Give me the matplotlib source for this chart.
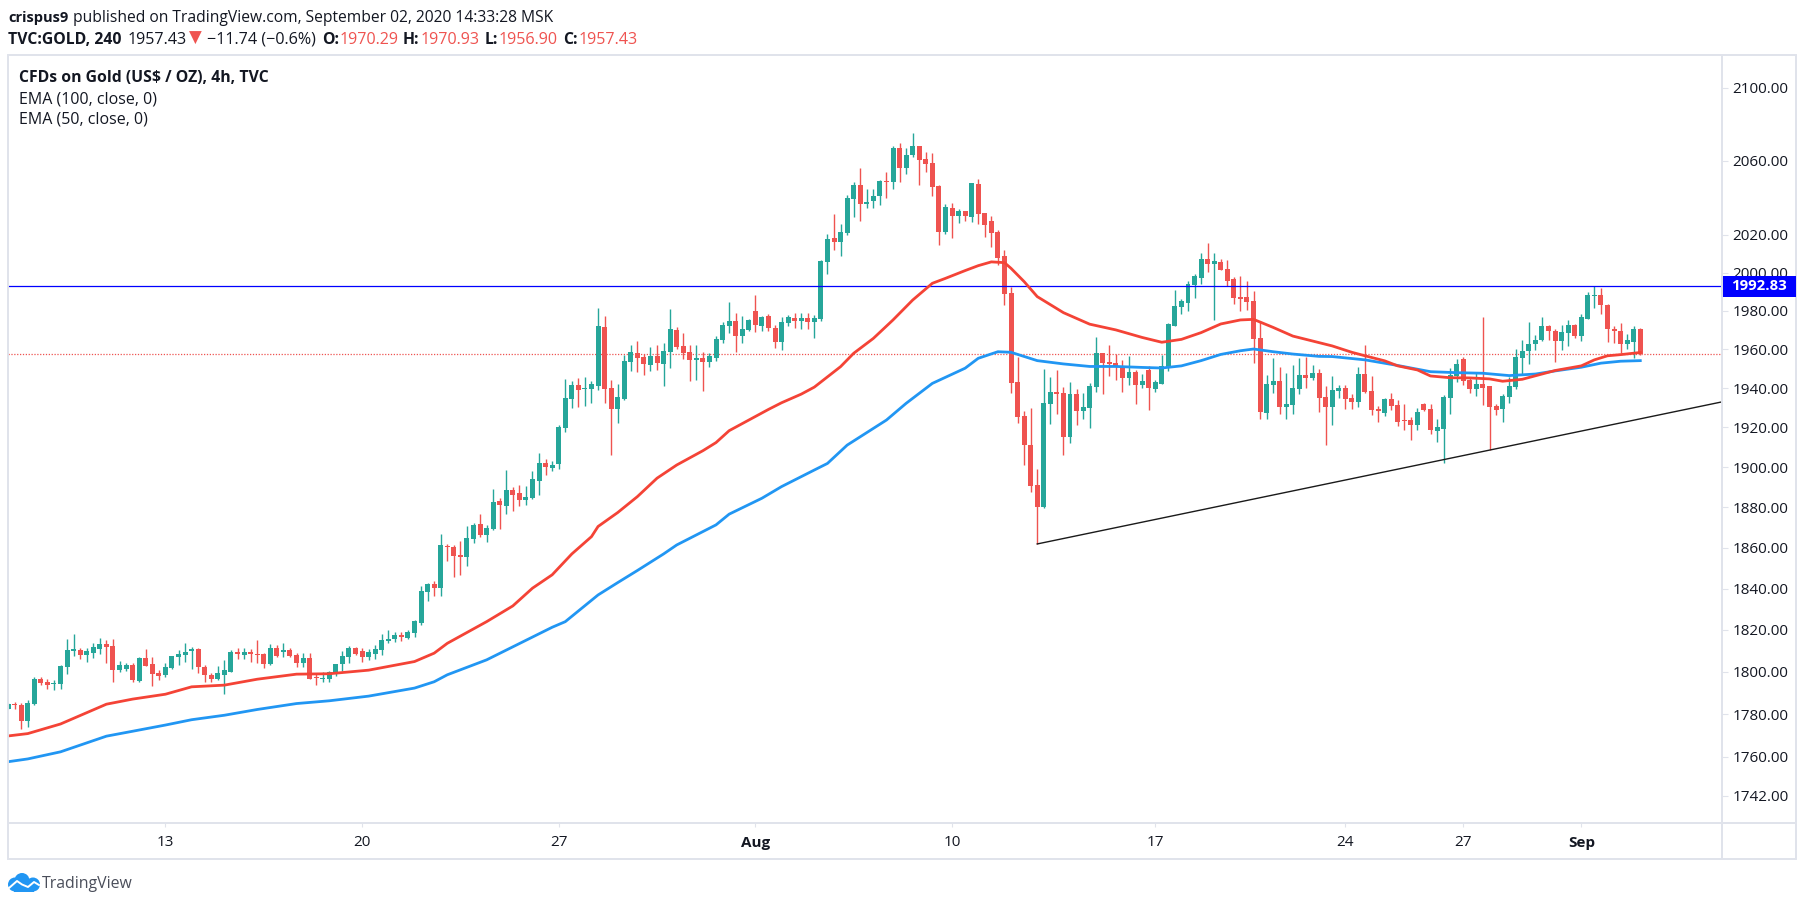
import numpy as np
import matplotlib
matplotlib.use("Agg")
import matplotlib.pyplot as plt
from matplotlib.patches import Circle, Rectangle
from matplotlib.ticker import FormatStrFormatter, NullLocator

W, H = 1805, 906

# 4h candles
opens = [
    1782.6,1785.0,1784.4,1776.8,1784.7,1796.5,1795.1,1794.0,1794.0,1802.5,
    1810.1,1810.4,1808.1,1809.0,1811.1,1813.3,1812.3,1801.0,1801.4,1803.3,
    1795.7,1806.6,1803.6,1799.4,1798.6,1801.9,1807.3,1808.1,1809.7,1810.9,
    1802.4,1798.3,1796.7,1798.6,1800.0,1809.3,1808.1,1809.3,1808.5,1808.5,
    1803.8,1811.2,1809.6,1810.3,1807.9,1804.3,1806.5,1797.6,1796.5,1796.7,
    1799.4,1803.5,1807.1,1811.4,1810.0,1807.1,1808.5,1810.6,1814.9,1815.8,
    1817.4,1816.1,1818.5,1823.2,1838.1,1842.2,1840.4,1860.9,1860.3,1856.4,
    1855.6,1864.3,1871.7,1866.3,1869.1,1883.1,1880.6,1888.5,1887.1,1883.6,
    1884.6,1893.0,1902.0,1899.5,1901.5,1919.7,1934.4,1941.5,1939.5,1939.5,
    1941.0,1971.6,1940.0,1929.3,1934.4,1953.4,1958.0,1956.0,1951.9,1956.5,
    1952.4,1958.6,1970.0,1961.7,1958.6,1954.4,1955.5,1953.4,1955.5,1964.8,
    1972.1,1974.7,1966.9,1970.0,1979.9,1972.1,1977.3,1971.0,1963.8,1973.7,
    1976.3,1974.7,1976.3,1974.2,1975.7,2005.7,2018.4,2016.3,2021.1,2039.2,
    2046.8,2036.5,2038.1,2040.8,2048.9,2048.4,2066.8,2055.9,2063.0,2067.9,
    2060.8,2058.6,2046.3,2021.6,2034.4,2030.1,2032.8,2029.6,2047.3,2031.7,
    2027.5,2021.6,2008.9,1989.4,1943.1,1925.8,1911.1,1891.0,1880.1,1931.9,
    1938.0,1937.5,1915.1,1937.0,1928.3,1929.8,1940.5,1958.0,1953.4,1952.9,
    1951.3,1945.2,1948.2,1941.5,1949.3,1939.5,1942.0,1950.3,1972.0,1981.9,
    1984.0,1993.4,1997.2,2007.2,2004.6,2005.7,2001.9,1996.5,1987.1,1987.1,
    1985.0,1965.8,1927.3,1941.5,1943.6,1930.3,1931.4,1939.5,1946.7,1945.2,
    1947.8,1935.4,1930.3,1938.5,1940.0,1934.9,1932.9,1947.2,1938.5,1929.3,
    1927.3,1934.4,1931.4,1923.7,1923.7,1921.2,1931.9,1929.3,1918.2,1919.2,
    1934.9,1946.2,1955.0,1944.1,1939.5,1942.1,1941.0,1930.8,1929.3,1935.4,
    1940.5,1955.5,1959.1,1962.8,1964.8,1972.1,1969.5,1964.3,1968.4,1972.6,
    1966.9,1975.7,1987.6,1988.2,1982.9,1970.5,1969.5,1962.8,1963.8,1970.29,
]
closes = [
    1784.7,1784.5,1776.8,1785.2,1796.7,1794.5,1793.9,1794.8,1802.9,1810.4,
    1810.9,1808.1,1809.8,1811.7,1813.3,1812.0,1801.0,1803.2,1803.2,1796.2,
    1806.6,1802.9,1799.1,1798.1,1802.4,1807.4,1808.5,1809.5,1810.9,1802.4,
    1798.3,1796.7,1799.4,1800.8,1809.5,1808.7,1809.3,1808.7,1808.2,1803.8,
    1811.4,1807.6,1810.3,1807.6,1804.4,1806.5,1796.7,1797.0,1797.0,1800.0,
    1803.6,1807.4,1811.4,1808.7,1807.3,1809.5,1810.9,1815.0,1815.5,1817.4,
    1816.4,1819.0,1824.2,1838.7,1842.2,1840.3,1861.3,1860.4,1855.9,1855.6,
    1864.6,1871.2,1866.3,1869.7,1882.6,1881.1,1888.5,1886.0,1883.6,1885.1,
    1894.0,1902.0,1900.0,1901.0,1920.2,1934.9,1941.5,1939.0,1940.0,1942.1,
    1972.1,1939.5,1929.3,1935.4,1953.9,1958.6,1955.5,1952.4,1956.5,1952.9,
    1959.1,1970.5,1961.2,1958.0,1954.4,1955.5,1953.4,1956.5,1965.3,1972.6,
    1974.7,1966.9,1970.5,1975.2,1972.6,1976.8,1971.0,1963.8,1974.2,1976.8,
    1974.7,1976.3,1974.2,1976.3,2006.2,2017.9,2016.3,2021.6,2039.7,2046.8,
    2036.5,2037.6,2040.8,2048.9,2048.4,2066.8,2055.9,2063.0,2067.9,2060.3,
    2058.1,2045.7,2021.6,2034.9,2030.1,2032.8,2030.1,2047.8,2031.2,2025.3,
    2021.1,2007.8,1988.9,1942.6,1925.3,1911.1,1890.5,1880.1,1932.4,1938.0,
    1937.0,1915.1,1937.0,1928.3,1930.3,1941.0,1958.0,1952.9,1952.4,1950.6,
    1945.2,1948.2,1941.5,1943.6,1940.0,1943.1,1951.3,1973.1,1982.4,1985.0,
    1993.9,1998.3,2007.2,2004.6,2006.2,2001.4,1995.4,1986.6,1986.1,1984.5,
    1965.3,1927.8,1942.0,1943.6,1930.3,1931.9,1940.0,1946.7,1945.2,1947.8,
    1934.9,1930.3,1939.0,1940.0,1934.4,1932.9,1947.2,1938.0,1928.8,1928.3,
    1934.4,1930.8,1922.7,1923.2,1921.2,1927.8,1928.8,1918.7,1920.2,1935.4,
    1946.7,1952.4,1943.6,1939.5,1942.1,1940.0,1930.3,1928.8,1935.9,1941.0,
    1956.0,1959.1,1962.8,1964.8,1972.1,1969.5,1964.3,1969.0,1972.6,1966.9,
    1976.7,1988.2,1988.2,1982.9,1970.5,1969.5,1962.8,1964.8,1970.5,1957.43,
]
highs = [
    1785.2,1785.9,1785.2,1786.7,1797.6,1797.6,1796.5,1796.2,1803.2,1815.5,
    1818.3,1811.2,1811.2,1813.6,1816.0,1815.0,1815.5,1805.1,1804.4,1804.1,
    1807.0,1810.8,1807.0,1801.0,1804.1,1807.6,1810.4,1813.6,1811.9,1811.2,
    1803.2,1799.4,1802.9,1805.7,1810.4,1811.2,1811.2,1810.8,1815.2,1809.2,
    1813.3,1812.8,1813.6,1811.2,1809.2,1808.9,1808.9,1799.1,1799.7,1800.5,
    1803.8,1810.0,1812.3,1811.9,1811.2,1810.8,1812.8,1818.3,1820.2,1818.8,
    1819.0,1820.2,1824.7,1841.1,1842.8,1843.6,1866.7,1861.6,1861.3,1863.3,
    1870.7,1872.2,1876.7,1871.2,1889.0,1884.4,1898.5,1890.1,1891.0,1890.5,
    1898.0,1907.1,1904.0,1903.0,1921.2,1944.6,1943.6,1945.1,1945.6,1943.6,
    1981.5,1977.3,1944.1,1942.1,1957.0,1962.2,1964.3,1957.5,1961.1,1962.2,
    1963.2,1981.0,1971.6,1968.4,1962.2,1962.2,1958.6,1958.0,1966.9,1974.2,
    1984.6,1978.9,1977.3,1975.7,1988.3,1977.3,1978.3,1972.6,1976.8,1977.8,
    1978.9,1978.9,1978.9,1977.8,2006.7,2020.5,2031.2,2025.9,2041.4,2048.4,
    2055.9,2044.6,2044.6,2049.5,2053.6,2067.9,2069.6,2066.8,2075.1,2067.9,
    2064.7,2064.1,2046.8,2036.5,2037.1,2033.9,2032.8,2047.8,2049.9,2031.7,
    2030.1,2022.7,2012.0,1992.5,1956.0,1928.3,1929.8,1899.0,1949.8,1945.7,
    1949.3,1940.5,1943.1,1939.5,1937.5,1942.5,1966.3,1958.0,1962.2,1957.5,
    1954.4,1956.5,1949.3,1947.2,1951.3,1944.1,1957.0,1973.6,1990.7,1986.1,
    1995.4,1999.3,2010.4,2015.7,2010.4,2007.2,2006.7,1997.7,1998.3,1995.4,
    1990.2,1974.6,1946.7,1955.5,1950.8,1947.7,1951.9,1955.5,1956.0,1951.9,
    1949.8,1941.0,1946.2,1941.6,1941.6,1936.9,1950.9,1962.2,1946.2,1930.8,
    1934.9,1937.5,1933.9,1931.9,1925.2,1929.8,1932.4,1931.9,1924.2,1936.4,
    1950.3,1955.0,1956.0,1945.7,1948.3,1976.7,1941.0,1931.9,1936.9,1945.7,
    1960.2,1964.8,1974.1,1967.4,1976.7,1972.6,1970.5,1972.6,1975.2,1973.1,
    1978.3,1989.8,1992.8,1991.8,1983.4,1972.1,1973.6,1967.9,1972.1,1970.93,
]
lows = [
    1782.3,1782.2,1773.0,1774.1,1784.4,1793.9,1792.1,1791.2,1792.1,1799.1,
    1807.6,1806.0,1804.9,1806.8,1808.7,1804.3,1795.0,1799.7,1800.2,1795.0,
    1795.1,1802.9,1793.1,1795.9,1797.5,1801.4,1803.3,1804.9,1801.4,1799.4,
    1795.0,1795.4,1795.9,1789.6,1799.7,1806.3,1806.3,1804.9,1804.1,1801.9,
    1803.3,1807.3,1807.3,1807.0,1802.4,1802.5,1796.5,1793.9,1795.0,1795.4,
    1797.8,1800.5,1804.4,1808.1,1804.9,1805.7,1806.3,1808.1,1813.6,1814.4,
    1814.9,1815.5,1816.8,1822.3,1833.8,1836.5,1836.5,1853.5,1845.4,1846.7,
    1851.2,1862.5,1865.4,1863.0,1868.8,1869.2,1876.6,1878.1,1880.6,1881.1,
    1884.1,1886.1,1896.0,1898.0,1899.0,1917.7,1929.8,1930.3,1930.8,1932.4,
    1939.0,1932.4,1906.0,1922.2,1933.9,1948.8,1948.3,1946.7,1948.8,1949.3,
    1941.0,1950.3,1960.1,1955.0,1943.6,1944.1,1938.5,1950.8,1953.9,1963.2,
    1968.4,1958.6,1963.2,1969.5,1969.0,1969.5,1969.5,1960.6,1959.6,1972.1,
    1971.0,1970.5,1970.5,1965.8,1974.7,1999.3,2012.0,2008.9,2020.0,2029.6,
    2027.5,2034.4,2034.4,2036.0,2039.7,2044.6,2048.4,2052.7,2061.9,2046.8,
    2053.6,2040.8,2014.7,2020.5,2018.4,2026.4,2027.5,2027.0,2025.9,2019.0,
    2013.6,2004.1,1983.0,1937.4,1922.0,1901.0,1887.6,1861.8,1879.6,1921.7,
    1926.8,1906.0,1912.1,1921.2,1924.2,1919.7,1938.0,1937.0,1946.2,1944.1,
    1938.0,1941.5,1931.9,1940.0,1928.8,1938.0,1942.0,1948.8,1972.0,1978.3,
    1979.8,1986.6,1993.9,2000.3,1975.1,2001.4,1992.8,1983.5,1979.8,1980.3,
    1952.9,1924.2,1924.2,1937.5,1926.8,1924.2,1926.8,1937.0,1940.0,1944.1,
    1927.8,1911.1,1921.2,1934.9,1929.3,1929.3,1930.3,1937.5,1926.3,1922.7,
    1925.8,1928.8,1920.7,1918.7,1913.6,1918.7,1928.3,1916.6,1912.6,1902.0,
    1926.8,1943.1,1941.6,1937.5,1935.9,1931.4,1908.6,1926.3,1922.7,1932.4,
    1939.5,1947.2,1952.4,1959.7,1964.3,1964.8,1953.4,1959.7,1961.7,1965.9,
    1964.3,1975.7,1981.4,1978.3,1963.8,1963.3,1958.1,1960.2,1955.5,1956.90,
]

# EMA 50 (red) and EMA 100 (blue), read at these bars
ema50_bars = [0,3,8,15,19,24,28,33,38,44,49,55,62,65,67,73,77,80,83,86,89,90,93,96,99,102,106,108,110,116,
              118,121,123,127,129,132,135,138,141,143,146,148,150,152,153,155,157,161,165,169,173,176,179,
              182,185,188,190,193,196,200,202,205,207,210,212,215,217,220,223,226,228,231,234,236,240,242,
              244,246,249]
ema50 = [1769.8,1770.9,1775.4,1784.7,1787.1,1789.4,1792.9,1793.7,1796.5,1798.9,1799.1,1800.8,1804.9,1808.9,
         1813.6,1824.0,1831.6,1840.2,1846.7,1856.9,1865.4,1870.4,1877.3,1885.2,1894.4,1901.0,1908.2,1912.3,
         1918.3,1929.1,1932.5,1936.9,1940.5,1951.0,1957.9,1965.6,1975.2,1985.6,1994.4,1997.0,2001.1,2003.7,
         2005.7,2005.3,2002.3,1995.3,1987.4,1979.0,1973.0,1970.0,1966.1,1963.6,1965.1,1968.6,1973.1,1975.2,
         1975.5,1971.3,1966.8,1963.4,1961.7,1958.4,1956.6,1954.0,1951.4,1949.3,1946.2,1945.3,1945.2,1944.7,
         1943.5,1944.5,1947.2,1949.0,1951.4,1954.5,1956.6,1957.2,1958.3]
ema100_bars = [0,3,8,15,19,24,28,33,38,44,49,55,62,65,67,73,83,85,90,93,96,100,102,108,110,115,118,123,125,
               128,134,137,141,146,148,151,153,157,161,165,169,173,176,179,182,185,188,190,193,196,200,202,
               207,212,217,221,225,229,233,236,240,243,246,249]
ema100 = [1757.8,1759.1,1762.4,1769.7,1772.0,1774.9,1777.4,1779.5,1782.2,1785.0,1786.3,1788.5,1792.3,1795.3,
          1798.6,1805.7,1821.3,1824.0,1836.9,1842.9,1848.8,1856.9,1861.3,1871.2,1876.5,1884.4,1890.2,1898.5,
          1901.8,1911.0,1923.7,1932.2,1942.4,1950.2,1955.3,1958.7,1958.4,1954.1,1952.4,1951.1,1951.1,1950.6,
          1950.3,1951.4,1954.1,1957.3,1959.2,1960.1,1958.7,1957.5,1956.3,1956.2,1954.5,1951.6,1948.4,1947.9,
          1947.6,1946.4,1947.2,1948.8,1950.7,1952.8,1953.8,1954.1]

# levels drawn on the chart
resistance = 1992.83
last_price = 1957.43
trend_bars = [157, 261.4]
trend_prices = [1861.8, 1932.9]

price_ticks = [1742, 1760, 1780, 1800, 1820, 1840, 1860, 1880, 1900, 1920, 1940, 1960, 1980, 2000, 2020, 2060, 2100]
date_ticks = [24, 54, 84, 114, 144, 175, 204, 222, 240]
date_labels = ["13", "20", "27", "Aug", "10", "17", "24", "27", "Sep"]

GREEN = "#26a69a"
RED = "#ef5350"
FRAME = "#e0e3eb"
TEXT = "#131722"
FONT = "Open Sans"

plt.rcParams["font.family"] = [FONT, "DejaVu Sans"]

fig = plt.figure(figsize=(W / 100, H / 100), dpi=100, facecolor="white")
ax = fig.add_axes([8.3 / W, 1 - 823 / H, (1721.5 - 8.3) / W, (823 - 55.3) / H])

bars = np.arange(len(opens))
o, h, l, c = map(np.array, (opens, highs, lows, closes))
colors = np.where(c >= o, GREEN, RED)
ax.vlines(bars, l, h, colors=colors, linewidth=1.0, zorder=2)
ax.bar(bars, np.abs(c - o), bottom=np.minimum(o, c), width=0.76, color=colors, linewidth=0, zorder=3)

ax.axhline(last_price, color=RED, linewidth=0.9, linestyle=(0, (1, 1.3)), zorder=1)
ax.axhline(resistance, color="#0000ff", linewidth=0.9, zorder=4)
ax.plot(trend_bars, trend_prices, color="#1a1a1a", linewidth=1.0, zorder=4)
ax.plot(ema100_bars, ema100, color="#2196f3", linewidth=2.0, zorder=5)
ax.plot(ema50_bars, ema50, color="#f44336", linewidth=2.0, zorder=5)

ax.set_yscale("log")
ax.set_xlim(0.03, 261.39)
ax.set_ylim(1729.6, 2118.1)
ax.yaxis.tick_right()
ax.set_yticks(price_ticks)
ax.yaxis.set_minor_locator(NullLocator())
ax.yaxis.set_major_formatter(FormatStrFormatter("%.2f"))
ax.tick_params(axis="y", length=4, width=0.8, color=FRAME, labelcolor=TEXT, labelsize=11, pad=4)
ax.set_xticks(date_ticks)
ax.set_xticklabels(date_labels)
ax.tick_params(axis="x", length=3, width=0.8, color=FRAME, labelcolor=TEXT, labelsize=11, pad=6)
for lab in ax.get_xticklabels():
    if lab.get_text() in ("Aug", "Sep"):
        lab.set_fontweight("bold")
for s in ax.spines.values():
    s.set_visible(False)

# overlay in pixel coordinates for the frame, header and logo
ov = fig.add_axes([0, 0, 1, 1], zorder=10)
ov.set_xlim(0, W)
ov.set_ylim(H, 0)
ov.axis("off")
ov.patch.set_alpha(0)

ov.add_patch(Rectangle((8.3, 55.3), 1788, 803.7, fill=False, edgecolor=FRAME, linewidth=1.4))
ov.plot([1721.5, 1721.5], [55.3, 859], color=FRAME, linewidth=1.4)
ov.plot([8.3, 1796.3], [823, 823], color=FRAME, linewidth=1.4)

# price label of the horizontal level
ov.add_patch(Rectangle((1721, 276), 75.3, 21, facecolor="#0000ff", edgecolor="none"))
ov.text(1758.5, 286, f"{resistance:.2f}", color="white", fontsize=10.8, fontweight="bold", ha="center", va="center")

def label(x, y, s, color=TEXT, weight="normal", size=11.3):
    ov.text(x, y, s, color=color, fontweight=weight, fontsize=size, ha="left", va="baseline")

label(8, 22, "crispus9", weight="bold", size=10.5)
label(73, 22, "published on TradingView.com, September 02, 2020 14:33:28 MSK", size=11.25)
label(8, 44, "TVC:GOLD, 240", weight="bold")
label(128, 44, "1957.43", size=11.6)
ov.text(195.5, 38, "\u25bc", color=RED, fontsize=12, family="DejaVu Sans", ha="center", va="center")
label(207, 44, "\u221211.74 (\u22120.6%)", size=11.6)
for x, s in [(322, "O:"), (403, "H:"), (485, "L:"), (563, "C:")]:
    label(x, 44, s, weight="bold")
for x, s in [(340, "1970.29"), (421, "1970.93"), (499, "1956.90"), (579, "1957.43")]:
    label(x, 44, s, color=RED, size=11.6)

label(19, 82, "CFDs on Gold (US$ / OZ), 4h, TVC", weight="bold")
label(19, 103.5, "EMA (100, close, 0)", size=11.5)
label(19, 124, "EMA (50, close, 0)", size=11.5)

# TradingView logo
CLOUD = "#2196f3"
for cx, cy, r in [(15, 884.5, 7), (22, 880.5, 7.5), (33, 884.5, 7)]:
    ov.add_patch(Circle((cx, cy), r, facecolor=CLOUD, edgecolor="none"))
ov.add_patch(Rectangle((14, 884), 20, 7.5, facecolor=CLOUD, edgecolor="none"))
ov.plot([9, 17, 22, 28, 34, 39], [888, 881, 884.5, 887, 882, 885], color="white", linewidth=1.4)
label(42, 888, "TradingView", color="#4a4e5a", size=11.4)

fig.savefig("out.png", dpi=100, facecolor="white")
